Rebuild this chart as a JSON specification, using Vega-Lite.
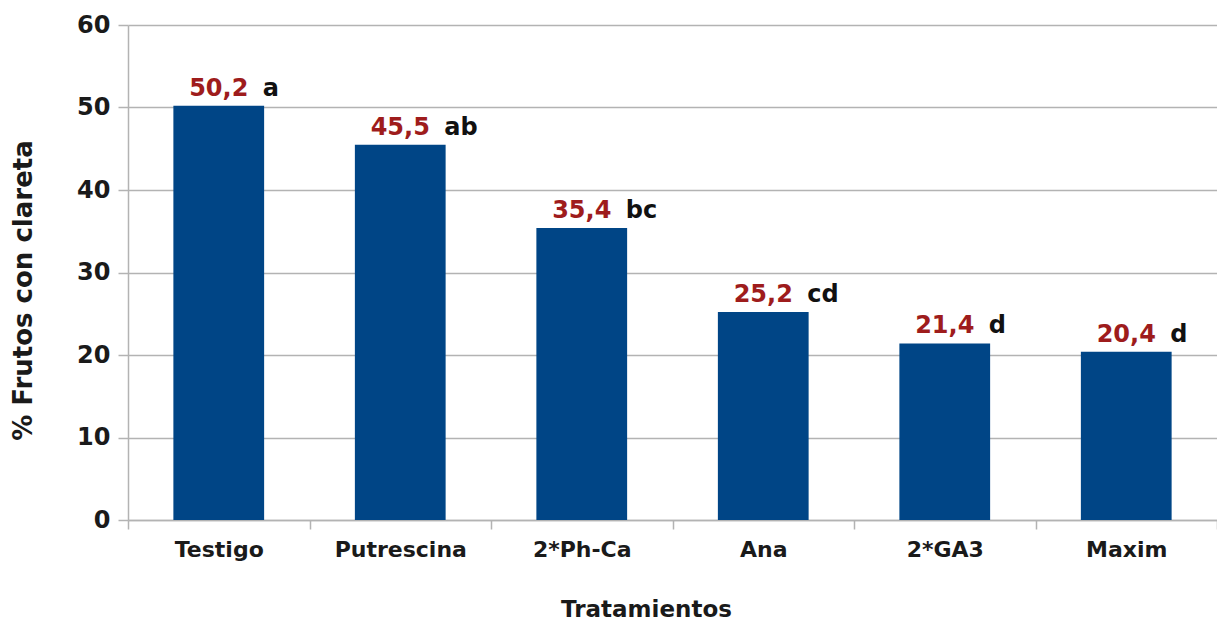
{
  "$schema": "https://vega.github.io/schema/vega-lite/v6.json",
  "width": 1089,
  "height": 495,
  "autosize": {"type": "none"},
  "padding": {"left": 128, "top": 25, "right": 0, "bottom": 101},
  "background": "white",
  "config": {"view": {"stroke": null}, "font": "DejaVu Sans"},
  "data": {"values": [
    {"trat": "Testigo", "valor": 50.2, "etiqueta": "50,2", "letra": "a"},
    {"trat": "Putrescina", "valor": 45.5, "etiqueta": "45,5", "letra": "ab"},
    {"trat": "2*Ph-Ca", "valor": 35.4, "etiqueta": "35,4", "letra": "bc"},
    {"trat": "Ana", "valor": 25.2, "etiqueta": "25,2", "letra": "cd"},
    {"trat": "2*GA3", "valor": 21.4, "etiqueta": "21,4", "letra": "d"},
    {"trat": "Maxim", "valor": 20.4, "etiqueta": "20,4", "letra": "d"}
  ]},
  "encoding": {
    "x": {
      "field": "trat", "type": "nominal", "sort": null,
      "scale": {"paddingInner": 0, "paddingOuter": 0},
      "axis": {
        "title": "Tratamientos", "titleFont": "DejaVu Sans", "titleFontSize": 23, "titleFontWeight": "bold", "titleColor": "#1a1a1a",
        "titleX": 518, "titleY": 96, "titleAlign": "center", "titleBaseline": "alphabetic", "titleAnchor": null,
        "labelAngle": 0, "labelFont": "DejaVu Sans", "labelFontSize": 22, "labelFontWeight": "bold", "labelColor": "#1a1a1a", "labelPadding": 10,
        "domainColor": "#b3b3b3", "domainWidth": 1.5, "tickColor": "#b3b3b3", "tickWidth": 1.5, "tickSize": 9, "tickBand": "extent", "grid": false
      }
    },
    "y": {
      "field": "valor", "type": "quantitative",
      "scale": {"domain": [0, 60], "nice": false},
      "axis": {
        "title": "% Frutos con clareta", "titleFont": "DejaVu Sans", "titleFontSize": 26, "titleFontWeight": "bold", "titleColor": "#1a1a1a",
        "titleX": -105, "titleY": 265, "titleAngle": -90, "titleAlign": "center", "titleBaseline": "middle", "titleAnchor": null,
        "values": [0, 10, 20, 30, 40, 50, 60],
        "labelFont": "DejaVu Sans", "labelFontSize": 24, "labelFontWeight": "bold", "labelColor": "#1a1a1a", "labelPadding": 8,
        "domainColor": "#b3b3b3", "domainWidth": 1.5, "tickColor": "#b3b3b3", "tickWidth": 1.5, "tickSize": 10,
        "grid": true, "gridColor": "#b3b3b3", "gridWidth": 1.5
      }
    }
  },
  "layer": [
    {"mark": {"type": "bar", "color": "#004586", "width": {"band": 0.5}}},
    {"mark": {"type": "text", "align": "center", "baseline": "alphabetic", "dy": -10, "font": "DejaVu Sans", "fontSize": 24, "fontWeight": "bold", "color": "#9e1c1c"},
     "encoding": {"text": {"field": "etiqueta"}}},
    {"mark": {"type": "text", "align": "left", "baseline": "alphabetic", "dx": 44, "dy": -10, "font": "DejaVu Sans", "fontSize": 24, "fontWeight": "bold", "color": "#111111"},
     "encoding": {"text": {"field": "letra"}}}
  ]
}
